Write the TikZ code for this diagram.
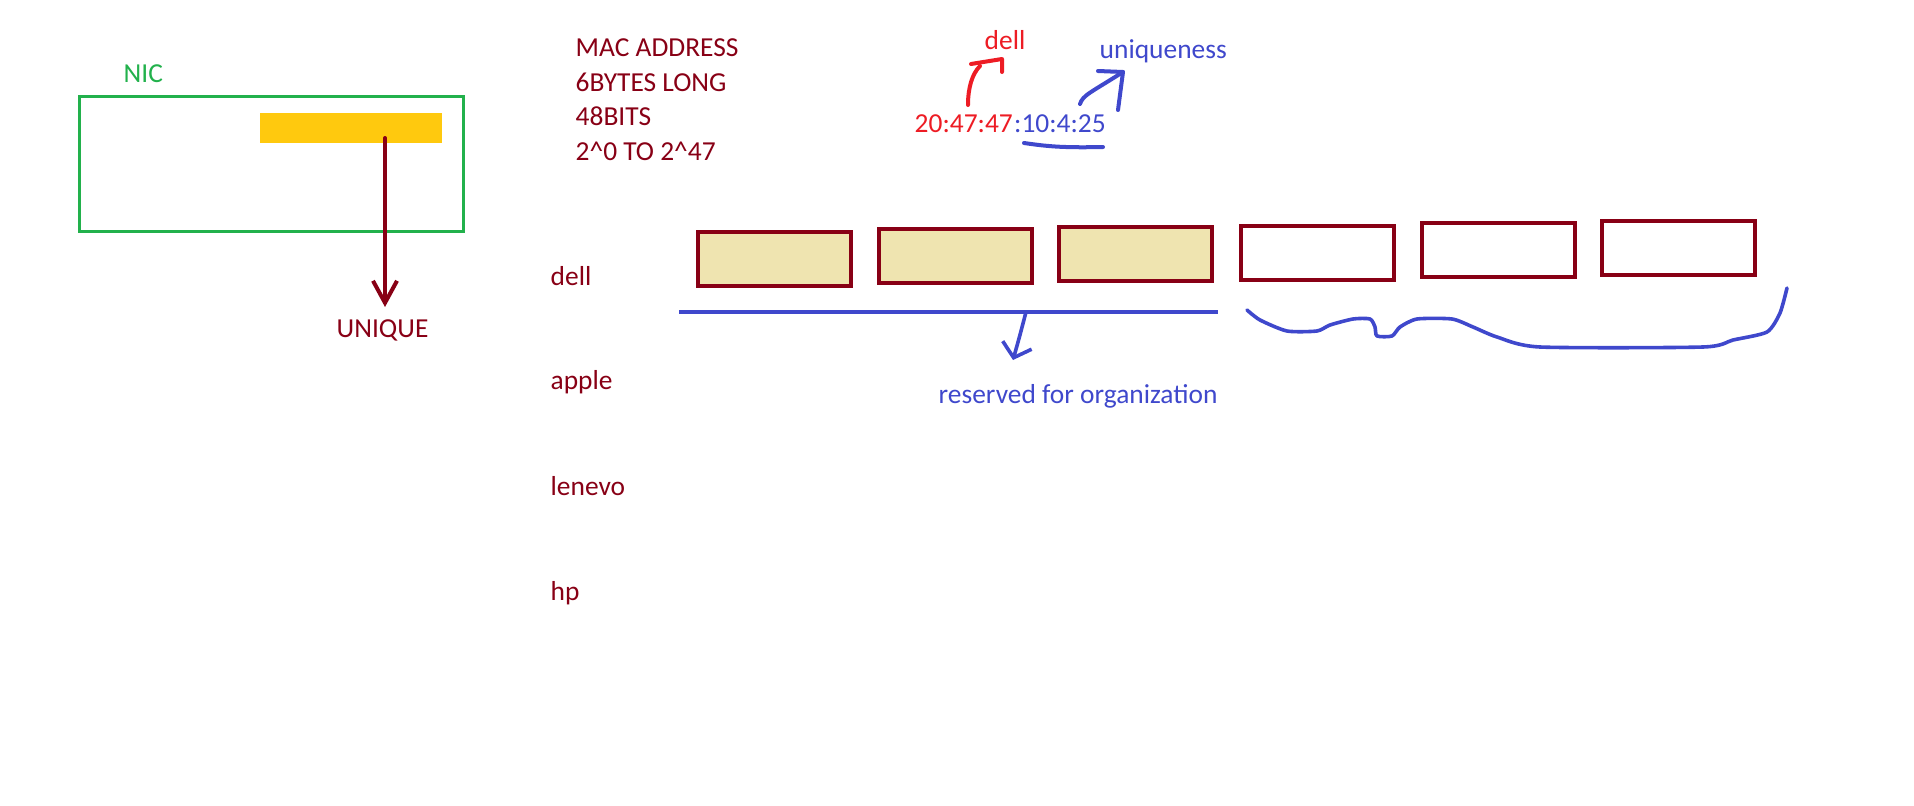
\documentclass[tikz,border=0pt]{standalone}
\usepackage{fontspec}
\setmainfont{Carlito}
\usetikzlibrary{arrows.meta,positioning}
\definecolor{maroon}{HTML}{880015}
\definecolor{paintblue}{HTML}{3F48CC}
\definecolor{paintred}{HTML}{ED1C24}
\definecolor{nicgreen}{HTML}{22B14C}
\definecolor{gold}{HTML}{FFC90E}
\definecolor{tan}{HTML}{EFE4B0}
\tikzset{
  txt/.style   = {inner sep=0pt, anchor=base west,
                  font=\fontsize{7.8pt}{9pt}\selectfont},
  pen/.style   = {line width=0.036cm, line cap=round, line join=round},
  field/.style = {draw=maroon, line width=0.037cm, inner sep=0pt,
                  minimum width=1.535cm, minimum height=0.545cm}
}

\begin{document}
\begin{tikzpicture}[x=0.01cm, y=-0.01cm]
\useasboundingbox (0,0) rectangle (1914,806);

\node[draw=nicgreen, line width=0.033cm, inner sep=0pt,
      minimum width=3.84cm, minimum height=1.35cm] (nic) at (271.5,164) {};
\node[txt, text=nicgreen] (nictitle) at (123,82) {NIC};
\node[fill=gold, inner sep=0pt, minimum width=1.82cm, minimum height=0.3cm] (chip) at (351,128) {};
\node[txt, text=maroon] (unique) at (336,337) {UNIQUE};
\coordinate (chipdot) at (385,138);
\coordinate (uniquetip) at (385,307);
\draw[pen, maroon, line width=0.04cm, -{Straight Barb[length=2.2mm, width=2.4mm]}] (chipdot) -- (uniquetip);

\node[txt, text=maroon] (mac) at (575,56) {MAC ADDRESS};
\node[txt, text=maroon] (bytes) at (575,91) {6BYTES LONG};
\node[txt, text=maroon] (bits) at (575,125) {48BITS};
\node[txt, text=maroon] (range) at (575,160) {2\textasciicircum0 TO 2\textasciicircum47};

\node[txt, text=paintred] (oui) at (914,133) {20:47:47};
\node[txt, text=paintblue] (serial) at (oui.base east) {:10:4:25};
\node[txt, text=paintred] (vendor) at (984,49) {dell};
\node[txt, text=paintblue] (uniq) at (1099,58) {uniqueness};

\coordinate (ouitop) at (968,105);
\coordinate (vendortip) at (1002,59);
\draw[pen, paintred, line width=0.04cm] (ouitop) .. controls (968,88) and (972,74) .. (980,66);
\draw[pen, paintred, line width=0.04cm] (971,64) -- (vendortip) -- (1002,72);

\coordinate (serialtop) at (1080,104);
\coordinate (uniqtip) at (1123,72);
\draw[pen, paintblue, line width=0.04cm] (serialtop) .. controls (1083,95) and (1090,93) .. (uniqtip);
\draw[pen, paintblue, line width=0.04cm] (1098,71) -- (uniqtip) -- (1118,110);
\draw[pen, paintblue, line width=0.04cm] (1024,143) .. controls (1045,146) and (1060,148) .. (1103,147);

\node[txt, text=maroon] (dell) at (550,285) {dell};
\node[txt, text=maroon] (apple) at (550,389) {apple};
\node[txt, text=maroon] (lenevo) at (550,495) {lenevo};
\node[txt, text=maroon] (hp) at (550,600) {hp};

\foreach \x/\y [count=\i] in {774.5/259, 955.5/256, 1135.5/254}
  \node[field, fill=tan] (b\i) at (\x,\y) {};
\foreach \x/\y [count=\i from 4] in {1317.5/253, 1498.5/250, 1678.5/248}
  \node[field] (b\i) at (\x,\y) {};

\draw[paintblue, line width=0.042cm] (679,312) -- (1218,312);
\node[txt, text=paintblue] (reserved) at (938,403) {reserved for organization};
\draw[pen, paintblue, -{Straight Barb[length=1.3mm, width=3mm]}] (1026,312) .. controls (1020,335) .. (1013,360);

\draw[pen, paintblue] plot[smooth, tension=0.4] coordinates {
  (1247,310) (1260,320) (1287,331) (1317,331) (1330,325) (1353,319)
  (1370,319) (1375,327) (1377,336) (1392,336) (1400,327) (1417,319)
  (1452,319) (1473,327) (1497,337) (1540,347) (1703,347) (1733,340)
  (1767,332) (1780,313) (1787,288)};
\end{tikzpicture}
\end{document}
